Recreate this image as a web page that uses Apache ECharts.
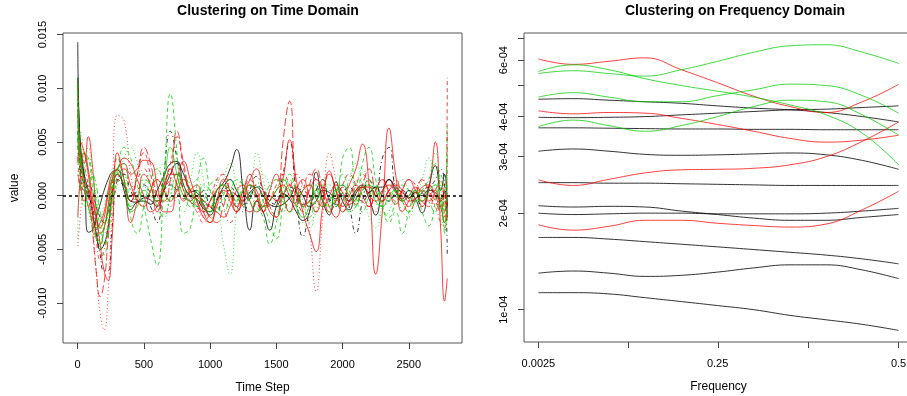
<!DOCTYPE html>
<html>
<head>
<meta charset="utf-8">
<script src="https://cdn.jsdelivr.net/npm/echarts@6/dist/echarts.min.js"></script>
<style>html,body{margin:0;padding:0;background:#fff}#c{width:907px;height:396px}</style>
</head>
<body>
<div id="c"></div>
<script>
// ---------- Time domain (values in units of 1e-3) ----------
const timeSteps = [1,20,50,80,110,140,170,200,230,260,300,350,400,450,500,550,600,650,700,750,800,850,900,950,1000,1050,1100,1150,1200,1250,1300,1350,1400,1450,1500,1550,1600,1650,1700,1750,1800,1850,1900,1950,2000,2050,2100,2150,2200,2250,2300,2350,2400,2450,2500,2550,2600,2650,2700,2740,2770,2790];

const tK1 = [14.3,4.0,1.5,-3.4,-3.2,-2.0,-0.8,0.5,1.5,2.2,2.4,0.5,-1.3,-0.6,-0.5,-0.8,0.5,1.8,3.0,3.2,1.0,0.0,-0.3,-1.2,-1.5,0.5,1.2,2.5,4.3,0.5,-3.2,-0.5,-1.5,-3.2,-1.0,0.2,-0.3,-1.5,-2.3,-1.5,2.2,-0.5,-1.8,1.3,-0.5,-1.3,0.2,0.8,-0.3,-1.8,0.3,1.5,0.5,-0.3,0.5,-0.3,-1.6,0.8,2.8,0.5,2.0,-1.2];
const tK2 = [11.0,5.0,2.0,0.5,-1.5,-3.5,-5.0,-4.5,-3.0,0.0,2.0,1.0,-0.5,-0.6,-0.2,-0.4,-1.0,0.5,2.0,3.0,2.0,0.5,0.3,-0.8,-1.8,-0.5,0.8,1.5,0.5,-0.5,0.3,0.8,0.0,-0.8,-1.0,-0.8,-0.2,0.8,0.0,-1.0,-0.5,0.5,0.3,-0.3,0.0,-0.5,0.5,1.0,0.3,0.8,0.8,1.5,0.8,0.3,-0.2,0.3,0.0,0.5,0.3,-0.3,0.5,-1.0];
const tK3 = [9.0,2.5,1.0,0.0,-1.0,-3.0,-5.5,-7.0,-7.0,-3.0,1.5,2.0,0.5,-0.5,0.0,-1.0,-2.5,2.0,6.0,3.5,0.5,-0.5,-1.0,0.5,-1.0,-1.5,0.3,0.5,-1.0,-1.5,0.5,1.8,0.5,-1.0,-0.5,2.0,5.0,0.0,-3.8,-1.5,0.5,1.5,-0.5,-1.0,1.0,-1.0,-3.5,-0.5,1.5,0.0,3.5,4.5,0.5,-0.5,0.5,0.0,-1.0,0.5,1.5,2.5,1.0,-5.5];
const tK4 = [6.0,2.0,0.5,1.0,0.5,-1.0,-2.0,-2.5,-1.5,0.5,1.5,0.8,-0.5,0.5,1.0,0.3,-0.5,0.5,1.0,0.5,-0.3,0.3,0.5,-0.5,-1.0,-0.3,0.5,0.8,0.0,-0.8,-0.3,1.0,0.5,-0.5,-0.8,0.0,0.8,0.3,-0.8,-0.5,0.5,0.8,-0.3,-0.8,0.3,0.8,0.0,-0.5,0.3,0.8,0.0,-0.5,0.3,0.5,-0.3,-0.5,0.3,0.8,0.0,-0.5,0.3,-2.0];
const tR1 = [8.0,4.5,3.0,5.5,3.0,-1.5,-4.5,-7.0,-7.9,-4.0,4.0,1.5,-2.5,-0.5,2.0,1.0,-1.5,0.5,2.5,1.0,-0.5,0.5,1.0,-1.5,-2.5,-0.5,1.5,0.5,-1.0,0.5,2.0,0.0,-1.5,0.5,2.0,0.0,-1.5,0.5,1.5,0.0,-1.5,0.5,2.0,0.5,-1.0,0.0,1.0,0.0,-1.0,0.5,1.5,0.3,-0.8,0.5,1.5,0.5,-0.5,0.0,0.5,-0.5,0.3,-1.0];
const tR2 = [2.0,1.0,-0.5,0.5,-0.5,-2.0,-3.0,-2.0,0.0,1.5,2.0,2.5,1.0,-0.5,-1.0,0.5,1.5,0.5,-0.5,0.5,1.5,0.5,-0.5,-1.5,-0.5,0.5,1.0,-0.5,-1.5,0.0,1.5,2.5,0.5,-1.5,-2.0,0.0,1.0,0.0,-1.0,0.5,1.5,0.5,-1.0,-2.0,-0.5,1.0,2.5,4.8,1.0,-7.3,-1.5,6.3,2.0,-1.5,-0.5,0.5,-1.0,0.5,5.0,-3.0,-9.8,-7.7];
const tR3 = [3.0,5.0,4.0,2.0,-1.0,-3.0,-2.5,-1.5,0.5,2.0,2.5,3.5,3.0,1.5,0.0,-1.5,-1.0,1.0,2.0,2.0,0.5,-0.5,0.0,-0.5,-1.0,-1.5,-2.0,-1.0,0.5,1.0,-0.5,-1.5,-1.0,0.0,-0.5,1.5,5.2,1.5,-1.5,-3.5,-5.2,-1.0,2.3,0.5,-1.5,-0.5,0.5,0.8,0.0,-0.5,0.5,1.0,0.3,-0.5,0.0,0.8,0.3,-0.5,0.0,-1.0,-2.5,-1.5];
const tR4 = [10.5,3.0,1.5,0.0,-3.0,-7.0,-9.4,-8.0,-4.0,0.0,2.0,1.0,-0.5,2.0,4.5,3.0,0.0,-0.5,1.5,6.0,3.0,0.5,0.0,-1.0,-2.0,-2.5,-1.0,0.5,0.0,-1.0,-1.5,-0.5,0.5,-1.0,-2.0,5.0,8.8,0.5,-1.5,1.0,2.5,0.5,-1.5,-0.5,0.8,0.0,-0.8,1.0,2.5,0.5,-0.5,0.5,1.5,0.0,-1.0,0.0,1.5,0.5,-0.5,-1.5,0.0,-2.5];
const tR5 = [-4.7,-2.0,1.5,0.5,-2.5,-7.0,-11.0,-12.5,-9.0,-1.0,7.5,7.0,2.0,-0.5,-1.0,0.5,1.5,0.5,-1.0,0.0,1.5,0.5,-1.0,-2.0,-0.5,1.0,2.0,0.5,-1.0,-0.5,0.5,0.0,-1.0,0.5,1.5,0.0,-1.5,-0.5,1.0,-3.0,-8.9,-2.0,4.0,1.5,-1.0,-0.5,1.0,1.5,0.0,-1.5,-0.5,0.5,1.0,-0.5,-1.0,0.5,1.5,0.5,-1.0,0.0,1.0,-1.0];
const tR6 = [-2.0,1.5,4.0,2.5,0.0,-2.0,-3.5,-3.0,-1.0,1.5,2.5,3.0,2.0,2.5,3.3,3.2,1.0,-1.5,-1.5,1.5,3.2,1.5,-0.5,-2.0,-2.5,-1.0,0.5,0.0,-1.5,-0.5,1.0,0.5,-1.0,-0.5,0.5,1.0,0.0,-0.8,0.5,1.0,-0.3,-1.0,0.0,1.0,0.3,-0.8,-0.3,0.8,0.8,0.0,-0.5,0.5,1.0,0.5,-0.5,-0.3,0.8,1.0,0.0,-1.0,-0.5,-2.0];
const tR7 = [7.0,3.0,0.5,-1.0,-2.0,-3.5,-4.5,-3.0,-1.0,1.0,3.5,1.5,-0.5,2.0,4.0,2.0,0.0,1.0,3.0,5.5,2.5,0.0,-1.0,-1.5,-0.5,1.5,2.0,0.5,-1.0,0.5,1.5,0.0,-1.5,-0.5,1.0,2.0,1.0,-0.5,0.5,2.0,1.5,0.0,-1.5,-0.5,1.0,2.0,1.0,-0.5,-1.0,0.5,1.5,0.5,-0.5,0.5,1.5,1.0,-0.5,-1.0,0.5,1.5,-2.0,11.0];
const tR8 = [5.0,0.5,2.5,1.0,-1.0,-4.0,-6.0,-5.0,-2.5,0.0,1.5,1.0,0.0,1.5,2.5,1.0,-0.5,0.5,1.5,2.0,1.0,-0.5,-1.5,-2.5,-1.5,0.5,-1.0,-2.5,-1.5,0.5,1.0,-0.5,-1.5,0.0,-0.5,-1.5,0.5,2.0,1.0,-0.5,-1.5,-0.5,0.5,-0.5,-1.5,-0.5,1.0,2.0,1.0,0.0,-0.5,0.5,0.8,-0.5,-1.5,-0.5,0.5,0.0,-1.0,-2.5,-3.0,6.0];
const tG1 = [11.0,4.0,2.0,3.5,2.0,-0.5,-3.0,-4.5,-3.5,-1.0,2.0,4.5,3.5,1.0,-1.0,-4.0,-6.5,1.0,9.5,4.0,-3.5,-3.0,1.0,3.5,0.5,-1.5,0.0,1.5,0.5,-1.0,0.0,1.0,-0.5,-2.5,-4.0,-1.0,1.5,0.5,-1.0,-2.0,0.0,1.0,0.0,-1.0,3.5,4.5,0.0,-1.5,0.0,1.0,-1.0,-2.5,-1.5,-3.5,-1.5,0.5,-1.5,-2.8,-0.5,2.0,0.5,6.5];
const tG2 = [4.5,6.0,2.5,-1.0,-3.0,-4.0,-2.5,-1.0,0.5,2.0,3.0,2.0,0.5,0.0,1.0,2.0,1.0,-0.5,0.5,1.5,0.0,1.5,4.0,1.5,-2.5,-1.0,-4.5,-7.3,-1.5,1.5,1.0,4.0,1.5,-1.0,-2.0,-0.5,0.5,-1.0,-2.5,-3.0,-0.5,1.5,0.5,-1.0,-0.5,1.5,3.0,1.0,-2.0,-3.0,-1.0,1.0,0.5,-1.5,-2.0,0.0,1.5,3.5,1.0,-1.5,-3.0,-1.0];
const tG3 = [8.0,3.0,4.0,3.5,1.0,-2.0,-4.5,-5.5,-3.0,0.0,2.5,3.0,-2.0,-3.5,-1.0,1.5,2.5,1.0,-0.5,1.0,2.0,0.5,-1.0,-0.5,1.0,1.5,0.0,-1.0,-0.5,0.5,0.0,-1.0,-2.0,-4.5,-2.5,0.5,2.0,0.5,-1.0,-0.5,1.0,-0.5,-1.5,0.0,2.0,0.5,-1.0,3.0,4.5,1.5,-1.0,-2.0,-0.5,1.0,0.5,-0.5,0.5,1.5,3.0,0.5,-1.5,4.0];
const tG4 = [10.5,3.5,1.0,-1.0,-2.5,-4.0,-4.5,-3.0,-1.0,1.5,2.5,1.5,-1.5,-1.0,0.5,0.0,-0.5,1.5,4.5,2.0,0.0,-0.5,0.5,-1.0,-1.5,0.5,1.0,0.5,-0.5,0.5,1.0,0.0,-1.0,-0.5,0.5,1.5,0.5,-1.0,-2.0,-1.0,0.5,-0.5,-1.0,0.5,1.0,0.0,-0.5,0.5,1.0,-0.5,-1.0,0.0,0.5,-0.5,0.0,0.5,-0.5,0.5,1.0,-0.5,-2.5,-1.5];
const tG5 = [-4.0,2.0,3.0,4.5,2.0,0.0,-2.0,-3.5,-2.5,-0.5,1.0,3.5,4.5,3.0,1.0,0.5,2.0,3.0,1.5,0.0,-1.5,0.5,1.5,0.0,-1.5,-0.5,1.5,3.0,1.0,-1.0,-1.5,0.5,2.0,1.0,-0.5,-1.5,0.0,1.0,-0.5,-2.5,-1.5,0.5,1.0,0.0,-1.5,-1.0,1.0,2.5,1.0,-0.5,-2.0,-1.5,0.5,1.5,0.5,-1.0,0.0,1.5,4.0,1.0,-1.0,2.0];
const tG6 = [6.0,1.5,-1.0,0.5,2.0,1.0,-1.5,-2.5,-1.5,0.5,2.0,1.0,-1.0,0.0,1.5,1.0,-1.0,-2.0,0.0,2.0,1.0,-1.0,-0.5,1.0,0.5,-1.0,-1.5,0.0,1.5,1.0,-0.5,-1.5,-0.5,1.0,1.5,0.0,-1.5,-1.0,0.5,1.0,0.0,-1.0,-0.5,0.5,0.0,-1.5,-1.0,0.5,1.5,0.5,-1.0,-0.5,0.5,-0.5,-1.5,-0.5,0.5,-0.5,-1.5,-0.5,-3.5,1.0];

const timeTicks = [0, 500, 1000, 1500, 2000, 2500];
const valueTicks = [-0.010, -0.005, 0.000, 0.005, 0.010, 0.015];

// ---------- Frequency domain (values in units of 1e-4) ----------
const freqs = [0.0025, 0.05, 0.1, 0.15, 0.2, 0.25, 0.3, 0.35, 0.4, 0.45, 0.5];
const fGup   = [5.45,5.56,5.45,5.35,5.6,5.95,6.35,6.65,6.7,6.35,5.86];
const fGdown = [5.53,5.8,5.6,5.25,5.0,4.8,4.6,4.35,4.05,3.55,2.83];
const fGmid  = [4.6,4.75,4.6,4.45,4.45,4.65,4.85,5.05,5.0,4.65,4.1];
const fGlow  = [3.72,3.9,3.75,3.6,3.75,4.0,4.3,4.5,4.45,4.05,3.5];
const fRtop  = [6.05,5.82,5.95,6.1,5.6,5.1,4.63,4.3,4.12,4.45,5.04];
const fRmid  = [4.17,4.08,4.12,4.1,3.95,3.78,3.6,3.42,3.33,3.38,3.5];
const fRlow1 = [2.54,2.44,2.55,2.67,2.73,2.74,2.76,2.83,3.0,3.35,3.85];
const fRlow2 = [1.84,1.77,1.82,1.9,1.9,1.86,1.83,1.81,1.85,2.05,2.34];
const fB1  = [4.53,4.55,4.5,4.45,4.4,4.32,4.25,4.2,4.12,4.0,3.85];
const fB2  = [3.98,3.97,3.98,4.0,4.05,4.1,4.15,4.2,4.22,4.27,4.32];
const fB3  = [3.69,3.69,3.68,3.67,3.66,3.66,3.65,3.65,3.64,3.64,3.64];
const fB4  = [3.12,3.17,3.12,3.05,3.03,3.04,3.06,3.08,3.04,2.92,2.74];
const fB5  = [2.49,2.49,2.48,2.48,2.47,2.46,2.45,2.44,2.44,2.44,2.44];
const fB6  = [2.11,2.09,2.1,2.09,2.03,1.98,1.93,1.9,1.9,1.94,1.98];
const fB7  = [2.0,1.98,1.99,2.0,2.0,1.99,1.99,1.99,2.0,2.03,2.07];
const fB8  = [1.68,1.68,1.66,1.63,1.6,1.57,1.54,1.51,1.48,1.44,1.39];
const fB9  = [1.3,1.32,1.3,1.27,1.28,1.31,1.35,1.38,1.38,1.33,1.25];
const fB10 = [1.13,1.13,1.12,1.09,1.06,1.03,1.0,0.96,0.93,0.9,0.862];

const freqTicks = [0.0025, 0.126875, 0.25125, 0.375625, 0.5];
const freqLabels = [0.0025, 0.25, 0.5];
const specTicks = [1e-4, 2e-4, 3e-4, 4e-4, 5e-4, 6e-4, 7e-4];
const specLabels = [1e-4, 2e-4, 3e-4, 4e-4, 6e-4];

// ---------- styles ----------
const BLACK = 'rgba(0,0,0,0.8)';
const RED = 'rgba(255,0,0,0.75)';
const GREEN = 'rgba(0,205,0,0.75)';
const LTY = {
  solid: 'solid',
  dashed: [4, 3],
  dotted: [1, 2.5],
  dotdash: [1, 3, 4, 3],
  longdash: [8, 3],
  twodash: [2, 2, 6, 2]
};

const timeSeriesDefs = [
  [tK1, BLACK, 'solid'], [tK2, BLACK, 'solid'], [tK3, BLACK, 'dotdash'], [tK4, BLACK, 'dashed'],
  [tR1, RED, 'solid'], [tR2, RED, 'solid'], [tR3, RED, 'solid'], [tR4, RED, 'longdash'],
  [tR5, RED, 'dotted'], [tR6, RED, 'solid'], [tR7, RED, 'dashed'], [tR8, RED, 'dotdash'],
  [tG1, GREEN, 'dashed'], [tG2, GREEN, 'dotted'], [tG3, GREEN, 'dashed'], [tG4, GREEN, 'solid'],
  [tG5, GREEN, 'dotted'], [tG6, GREEN, 'twodash']
];
const freqSeriesDefs = [
  [fB1, BLACK], [fB2, BLACK], [fB3, BLACK], [fB4, BLACK], [fB5, BLACK],
  [fB6, BLACK], [fB7, BLACK], [fB8, BLACK], [fB9, BLACK], [fB10, BLACK],
  [fRtop, RED], [fRmid, RED], [fRlow1, RED], [fRlow2, RED],
  [fGup, GREEN], [fGdown, GREEN], [fGmid, GREEN], [fGlow, GREEN]
];

const FONT = 'Liberation Sans, Arial, Helvetica, sans-serif';
const series = [];
timeSeriesDefs.forEach(function (d, i) {
  series.push({
    type: 'line', xAxisIndex: 0, yAxisIndex: 0, showSymbol: false, symbol: 'none',
    smooth: 0.5, silent: true, animation: false, z: 2,
    lineStyle: { color: d[1], width: 1, type: LTY[d[2]] },
    data: timeSteps.map(function (t, j) { return [t, d[0][j] / 1000]; }),
    markLine: i === 0 ? {
      silent: true, symbol: 'none', label: { show: false },
      lineStyle: { color: '#000', width: 1.6, type: [3, 3] },
      data: [{ yAxis: 0 }], animation: false
    } : undefined
  });
});
freqSeriesDefs.forEach(function (d) {
  series.push({
    type: 'line', xAxisIndex: 1, yAxisIndex: 1, showSymbol: false, symbol: 'none',
    smooth: 0.45, silent: true, animation: false,
    lineStyle: { color: d[1], width: 1, type: 'solid' },
    data: freqs.map(function (f, j) { return [f, d[0][j] * 1e-4]; })
  });
});

const axisLineOff = { show: false, onZero: false };
const chart = echarts.init(document.getElementById('c'), null, { renderer: 'canvas' });
chart.setOption({
  animation: false,
  backgroundColor: '#fff',
  textStyle: { fontFamily: FONT },
  title: [
    { text: 'Clustering on Time Domain', left: 263, top: -1, textAlign: 'center',
      textStyle: { fontFamily: FONT, fontWeight: 'bold', fontSize: 14, color: '#000' } },
    { text: 'Clustering on Frequency Domain', left: 730, top: -1, textAlign: 'center',
      textStyle: { fontFamily: FONT, fontWeight: 'bold', fontSize: 14, color: '#000' } }
  ],
  grid: [
    { left: 63, top: 33, width: 399, height: 310, show: true, borderColor: '#555', borderWidth: 1,
      backgroundColor: 'transparent', containLabel: false, outerBoundsMode: 'none' },
    { left: 524, top: 33, width: 389, height: 309, show: true, borderColor: '#555', borderWidth: 1,
      backgroundColor: 'transparent', containLabel: false, outerBoundsMode: 'none' }
  ],
  xAxis: [
    { type: 'value', gridIndex: 0, min: -110.6, max: 2901.4,
      name: 'Time Step', nameLocation: 'middle', nameGap: 39,
      nameTextStyle: { fontFamily: FONT, fontSize: 12, color: '#000' },
      axisLine: axisLineOff, splitLine: { show: false },
      axisTick: { show: true, inside: false, length: 6, customValues: timeTicks, lineStyle: { color: '#444' } },
      axisLabel: { show: true, margin: 16, fontSize: 11, color: '#000', fontFamily: FONT, customValues: timeTicks,
        formatter: function (v) { return String(Math.round(v)); } } },
    { type: 'value', gridIndex: 1, min: -0.0174, max: 0.5199,
      name: 'Frequency', nameLocation: 'middle', nameGap: 39,
      nameTextStyle: { fontFamily: FONT, fontSize: 12, color: '#000' },
      axisLine: axisLineOff, splitLine: { show: false },
      axisTick: { show: true, inside: false, length: 6, customValues: freqTicks, lineStyle: { color: '#444' } },
      axisLabel: { show: true, margin: 16, fontSize: 11, color: '#000', fontFamily: FONT, customValues: freqLabels,
        formatter: function (v) { return String(v); } } }
  ],
  yAxis: [
    { type: 'value', gridIndex: 0, min: -0.01371, max: 0.01515,
      name: 'value', nameLocation: 'middle', nameGap: 42, nameRotate: 90,
      nameTextStyle: { fontFamily: FONT, fontSize: 12, color: '#000' },
      axisLine: axisLineOff, splitLine: { show: false },
      axisTick: { show: true, inside: false, length: 6, customValues: valueTicks, lineStyle: { color: '#444' } },
      axisLabel: { show: true, rotate: 90, margin: 15, fontSize: 11, color: '#000', fontFamily: FONT, customValues: valueTicks,
        formatter: function (v) { return (Math.abs(v) < 1e-9 ? 0 : v).toFixed(3); } } },
    { type: 'log', gridIndex: 1, min: 7.93e-5, max: 7.29e-4, logBase: 10,
      axisLine: axisLineOff, splitLine: { show: false },
      axisTick: { show: true, inside: false, length: 6, customValues: specTicks, lineStyle: { color: '#444' } },
      axisLabel: { show: true, rotate: 90, margin: 15, fontSize: 11, color: '#000', fontFamily: FONT, customValues: specLabels,
        formatter: function (v) { return Math.round(v / 1e-4) + 'e-04'; } } }
  ],
  series: series
});
</script>
</body>
</html>
